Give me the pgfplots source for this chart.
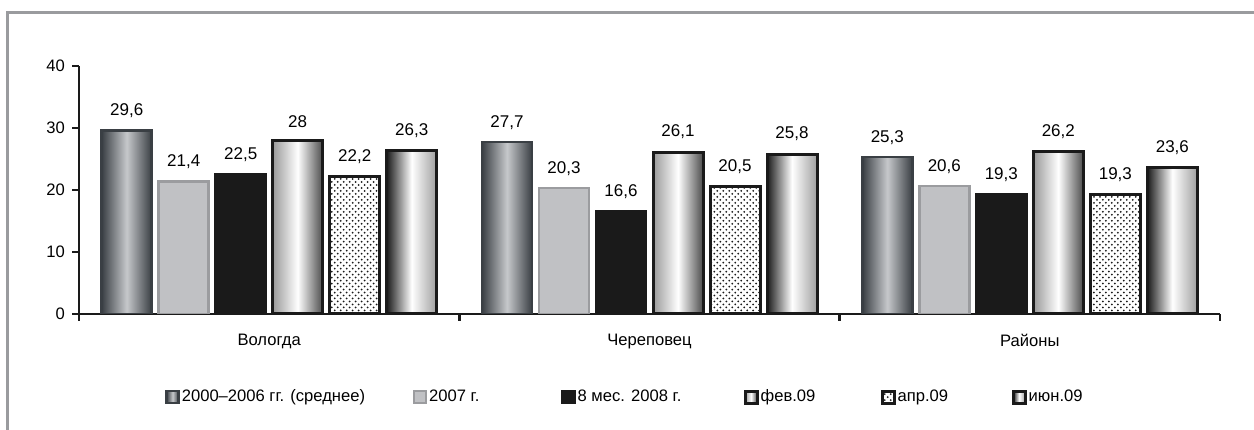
\documentclass[border=0pt]{standalone}
\usepackage{fontspec}
\setmainfont{Liberation Sans}
\usepackage{pgfplots}
\pgfplotsset{compat=1.18}
\usetikzlibrary{patterns}
\definecolor{dkg}{HTML}{3A3F44}
\definecolor{ltg}{HTML}{C6C8CB}
\definecolor{gfill}{HTML}{C0C1C4}
\definecolor{gdraw}{HTML}{9B9C9F}
\definecolor{blk}{HTML}{1A1A1A}
\definecolor{framec}{HTML}{9A9B9E}
\pgfplotsset{
  sA/.style={draw=dkg, line width=1.2bp, left color=dkg, right color=dkg, middle color=ltg, bar shift=-71.25bp},
  sB/.style={draw=gdraw, line width=1.2bp, fill=gfill, bar shift=-42.75bp},
  sC/.style={draw=blk, line width=1.2bp, fill=blk, bar shift=-14.25bp},
  sD/.style={draw=blk, line width=1.5bp, left color=gray!80, right color=black!70, middle color=white, bar shift=14.25bp},
  sE/.style={draw=blk, line width=1.5bp, fill=white, postaction={pattern=crosshatch dots, pattern color=blk}, bar shift=42.75bp},
  sF/.style={draw=blk, line width=1.5bp, left color=blk, right color=gray!75, middle color=white, bar shift=71.25bp},
}
\begin{document}
\begin{tikzpicture}
\path[use as bounding box] (0bp,0bp) rectangle (627bp,215bp);
\draw[framec, line width=1.5bp] (3.5bp,0bp) -- (3.5bp,208.5bp) -- (627bp,208.5bp);
\begin{axis}[
  at={(39.5bp,58bp)}, anchor=south west,
  scale only axis, width=570.5bp, height=124bp,
  xmin=-0.5, xmax=2.5, ymin=0, ymax=40,
  axis x line*=bottom, axis y line*=left,
  axis line style={line width=1.2bp, color=blk},
  font=\fontsize{8.3bp}{10bp}\selectfont,
  /pgf/number format/assume math mode=true,
  ytick={0,10,20,30,40},
  xtick={0,1,2}, xticklabels={Вологда,Череповец,Районы},
  minor xtick={-0.5,0.5,1.5,2.5},
  major x tick style={draw=none},
  tick style={line width=1.2bp, color=blk},
  tick align=outside, major tick length=3.5bp, minor tick length=3.5bp,
  xticklabel style={yshift=-3bp},
  ybar, bar width=25bp,
  nodes near coords,
  nodes near coords style={font=\fontsize{8.5bp}{10bp}\selectfont, yshift=2.5bp, /pgf/number format/.cd, use comma, fixed, precision=1, assume math mode=true},
  legend image code/.code={\draw[#1] (0bp,-3bp) rectangle (6bp,3bp);},
  legend columns=6,
  legend style={at={(0.0754,-0.3347)}, anchor=west, draw=none, fill=none, inner sep=0pt,
    column sep=0pt, nodes={inner sep=1bp, anchor=west}, font=\fontsize{8.3bp}{10bp}\selectfont},
]
\addplot[sA] coordinates {(0,29.6)};
\addlegendentry{\makebox[114.5bp][l]{2000–2006 гг. (среднее)}}
\addplot[sA, forget plot] coordinates {(1,27.7)};
\addplot[sA, forget plot] coordinates {(2,25.3)};

\addplot[sB] coordinates {(0,21.4)};
\addlegendentry{\makebox[65bp][l]{2007 г.}}
\addplot[sB, forget plot] coordinates {(1,20.3)};
\addplot[sB, forget plot] coordinates {(2,20.6)};

\addplot[sC] coordinates {(0,22.5)};
\addlegendentry{\makebox[82bp][l]{8 мес. 2008 г.}}
\addplot[sC, forget plot] coordinates {(1,16.6)};
\addplot[sC, forget plot] coordinates {(2,19.3)};

\addplot[sD] coordinates {(0,28)};
\addlegendentry{\makebox[59bp][l]{фев.09}}
\addplot[sD, forget plot] coordinates {(1,26.1)};
\addplot[sD, forget plot] coordinates {(2,26.2)};

\addplot[sE] coordinates {(0,22.2)};
\addlegendentry{\makebox[56bp][l]{апр.09}}
\addplot[sE, forget plot] coordinates {(1,20.5)};
\addplot[sE, forget plot] coordinates {(2,19.3)};

\addplot[sF] coordinates {(0,26.3)};
\addlegendentry{июн.09}
\addplot[sF, forget plot] coordinates {(1,25.8)};
\addplot[sF, forget plot] coordinates {(2,23.6)};
\end{axis}
\end{tikzpicture}
\end{document}
